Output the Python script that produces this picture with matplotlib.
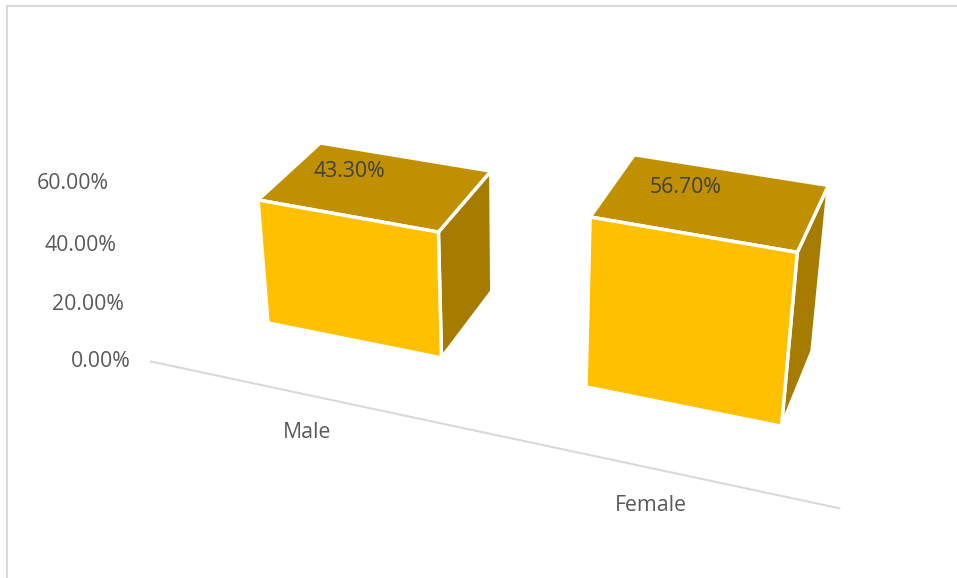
import numpy as np
import matplotlib.pyplot as plt
from matplotlib.patches import Polygon

# data
categories = ['Male', 'Female']
values = [43.30, 56.70]
yticks = [0, 20, 40, 60]

# camera: world (x = category, y = value in %, z = depth) -> pixel
CAM = np.array([[284.6, -0.4625, 76.1, 347.7],
                [41.9, -3.021, -42.9, 334.7],
                [-0.057, -0.000898, 0.0614, 0.984]])
BAR_W = 0.56
BAR_D = 1.06
FLOOR_Z = -0.8

FRONT = '#FFC000'
TOP = '#C09000'
SIDE = '#A67C00'
TXT = '#595959'


def proj(x, y, z):
    u, v, w = CAM @ np.array([x, y, z, 1.0])
    return u / w, v / w


def face(pts):
    return [proj(*p) for p in pts]


fig = plt.figure(figsize=(9.57, 5.78), dpi=100)
ax = fig.add_axes([0, 0, 1, 1])
ax.set_xlim(0, 957)
ax.set_ylim(578, 0)
ax.axis('off')
plt.rcParams['font.family'] = ['Open Sans', 'DejaVu Sans']

# chart border (top and left visible)
ax.plot([6.5, 957], [5.5, 5.5], color='#D9D9D9', lw=1.5)
ax.plot([6.5, 6.5], [5.5, 578], color='#D9D9D9', lw=1.5)

# category axis line on the floor
x0, y0 = proj(-0.5, 0, FLOOR_Z)
x1, y1 = proj(len(categories) - 0.5, 0, FLOOR_Z)
ax.plot([x0, x1], [y0, y1], color='#D9D9D9', lw=1.5, solid_capstyle='butt')

# value axis labels
for t in yticks:
    px, py = proj(-0.5, t, FLOOR_Z)
    ax.annotate('{:.2f}%'.format(t), (px, py), xytext=(-14, 0), textcoords='offset points',
                ha='right', va='center', fontsize=15.3, color=TXT)

# bars
for i, (cat, val) in enumerate(zip(categories, values)):
    xl, xr = i - BAR_W / 2, i + BAR_W / 2
    front = face([(xl, 0, 0), (xr, 0, 0), (xr, val, 0), (xl, val, 0)])
    top = face([(xl, val, 0), (xr, val, 0), (xr, val, BAR_D), (xl, val, BAR_D)])
    side = face([(xr, 0, 0), (xr, 0, BAR_D), (xr, val, BAR_D), (xr, val, 0)])
    for pts, col in [(side, SIDE), (top, TOP), (front, FRONT)]:
        ax.add_patch(Polygon(pts, closed=True, facecolor=col, edgecolor='white',
                             lw=2.5, joinstyle='round'))

    cx, cy = proj(i, val, 0.5)
    ax.annotate('{:.2f}%'.format(val), (cx, cy), xytext=(-18, 11), textcoords='offset points',
                ha='center', va='center', fontsize=15.3, color='#404040')

    lx, ly = proj(i, 0, FLOOR_Z)
    ax.annotate(cat, (lx, ly), xytext=(0, -27), textcoords='offset points',
                ha='center', va='center', fontsize=15.3, color=TXT)

fig.savefig('out.png', dpi=100)
